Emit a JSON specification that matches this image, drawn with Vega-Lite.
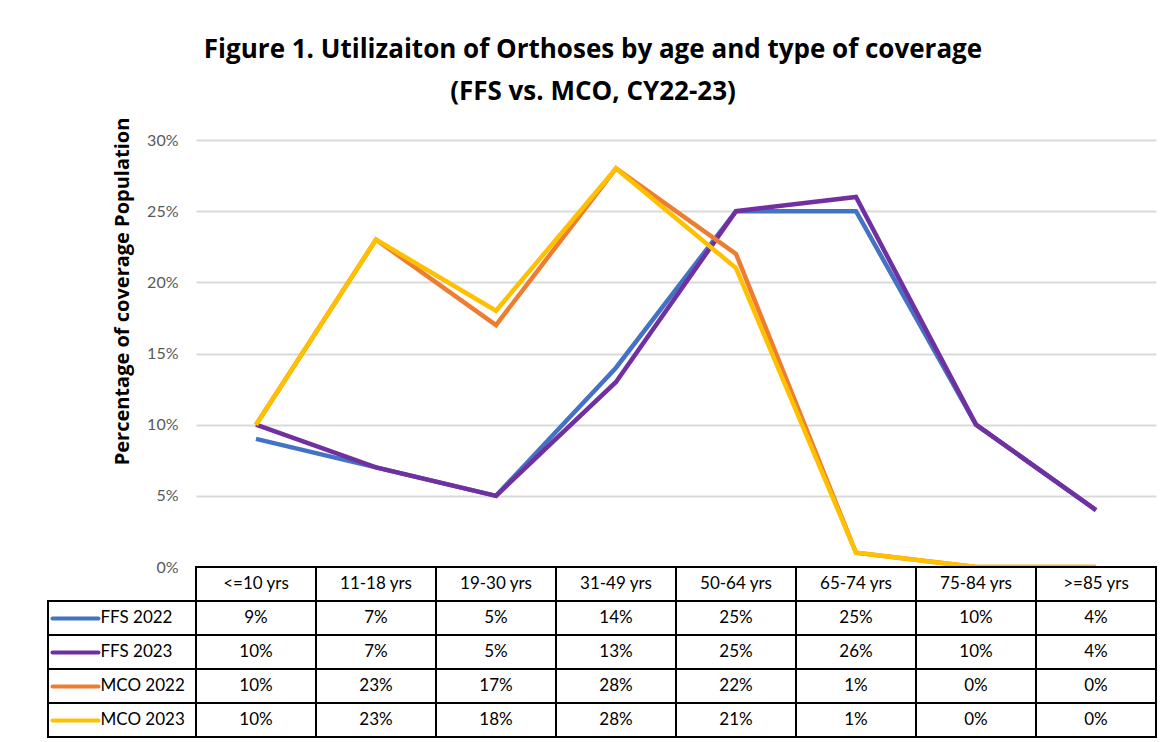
{
  "$schema": "https://vega.github.io/schema/vega-lite/v6.json",
  "background": "white",
  "padding": {"left": 47, "top": 37, "right": 8, "bottom": 0},
  "title": {
    "text": ["Figure 1. Utilizaiton of Orthoses by age and type of coverage", "(FFS vs. MCO, CY22-23)"],
    "font": "Open Sans",
    "fontSize": 26,
    "fontWeight": "bold",
    "color": "black",
    "anchor": "middle",
    "frame": "bounds",
    "lineHeight": 42,
    "offset": 12,
    "dx": -9
  },
  "datasets": {
    "main": [
      {"age": "<=10 yrs", "series": "FFS 2022", "value": 0.09},
      {"age": "11-18 yrs", "series": "FFS 2022", "value": 0.07},
      {"age": "19-30 yrs", "series": "FFS 2022", "value": 0.05},
      {"age": "31-49 yrs", "series": "FFS 2022", "value": 0.14},
      {"age": "50-64 yrs", "series": "FFS 2022", "value": 0.25},
      {"age": "65-74 yrs", "series": "FFS 2022", "value": 0.25},
      {"age": "75-84 yrs", "series": "FFS 2022", "value": 0.10},
      {"age": ">=85 yrs", "series": "FFS 2022", "value": 0.04},
      {"age": "<=10 yrs", "series": "FFS 2023", "value": 0.10},
      {"age": "11-18 yrs", "series": "FFS 2023", "value": 0.07},
      {"age": "19-30 yrs", "series": "FFS 2023", "value": 0.05},
      {"age": "31-49 yrs", "series": "FFS 2023", "value": 0.13},
      {"age": "50-64 yrs", "series": "FFS 2023", "value": 0.25},
      {"age": "65-74 yrs", "series": "FFS 2023", "value": 0.26},
      {"age": "75-84 yrs", "series": "FFS 2023", "value": 0.10},
      {"age": ">=85 yrs", "series": "FFS 2023", "value": 0.04},
      {"age": "<=10 yrs", "series": "MCO 2022", "value": 0.10},
      {"age": "11-18 yrs", "series": "MCO 2022", "value": 0.23},
      {"age": "19-30 yrs", "series": "MCO 2022", "value": 0.17},
      {"age": "31-49 yrs", "series": "MCO 2022", "value": 0.28},
      {"age": "50-64 yrs", "series": "MCO 2022", "value": 0.22},
      {"age": "65-74 yrs", "series": "MCO 2022", "value": 0.01},
      {"age": "75-84 yrs", "series": "MCO 2022", "value": 0.0},
      {"age": ">=85 yrs", "series": "MCO 2022", "value": 0.0},
      {"age": "<=10 yrs", "series": "MCO 2023", "value": 0.10},
      {"age": "11-18 yrs", "series": "MCO 2023", "value": 0.23},
      {"age": "19-30 yrs", "series": "MCO 2023", "value": 0.18},
      {"age": "31-49 yrs", "series": "MCO 2023", "value": 0.28},
      {"age": "50-64 yrs", "series": "MCO 2023", "value": 0.21},
      {"age": "65-74 yrs", "series": "MCO 2023", "value": 0.01},
      {"age": "75-84 yrs", "series": "MCO 2023", "value": 0.0},
      {"age": ">=85 yrs", "series": "MCO 2023", "value": 0.0}
    ]
  },
  "columns": 2,
  "spacing": 0,
  "bounds": "flush",
  "concat": [
    {
      "width": 148,
      "height": 427,
      "data": {"values": [{}]},
      "mark": {"type": "text", "text": ""}
    },
    {
      "width": 960,
      "height": 427,
      "data": {"name": "main"},
      "mark": {"type": "line", "strokeWidth": 4.5},
      "encoding": {
        "x": {
          "field": "age",
          "type": "nominal",
          "scale": {"type": "point", "padding": 0.5, "domain": ["<=10 yrs", "11-18 yrs", "19-30 yrs", "31-49 yrs", "50-64 yrs", "65-74 yrs", "75-84 yrs", ">=85 yrs"]},
          "axis": null
        },
        "y": {
          "field": "value",
          "type": "quantitative",
          "scale": {"domain": [0, 0.3], "nice": false},
          "axis": {
            "values": [0, 0.05, 0.1, 0.15, 0.2, 0.25, 0.3],
            "format": ".0%",
            "domain": false,
            "ticks": false,
            "labelPadding": 18,
            "labelFont": "Lato",
            "labelFontSize": 16,
            "labelColor": "#595959",
            "gridColor": "#d9d9d9",
            "gridWidth": 2,
            "title": "Percentage of coverage Population",
            "titleFont": "Open Sans",
            "titleFontSize": 20,
            "titleFontWeight": "bold",
            "titleColor": "black",
            "titlePadding": 14,
            "titleY": 151
          }
        },
        "color": {
          "field": "series",
          "type": "nominal",
          "scale": {"domain": ["FFS 2022", "FFS 2023", "MCO 2022", "MCO 2023"], "range": ["#4472C4", "#7030A0", "#ED7D31", "#FFC000"]},
          "legend": null
        }
      }
    },
    {
      "width": 148,
      "height": 170,
      "data": {"name": "main"},
      "transform": [{"aggregate": [{"op": "count", "as": "n"}], "groupby": ["series"]}],
      "mark": {"type": "rect", "fill": null, "fillOpacity": 0, "stroke": "black", "strokeWidth": 2},
      "encoding": {
        "y": {
          "field": "series",
          "type": "nominal",
          "scale": {"domain": [" ", "FFS 2022", "FFS 2023", "MCO 2022", "MCO 2023"], "paddingInner": 0, "paddingOuter": 0},
          "axis": {
            "orient": "left",
            "offset": -50,
            "domain": false,
            "tickSize": 46,
            "tickWidth": 4,
            "tickCap": "round",
            "tickColor": {
              "condition": [
                {"test": "datum.value === 'FFS 2022'", "value": "#4472C4"},
                {"test": "datum.value === 'FFS 2023'", "value": "#7030A0"},
                {"test": "datum.value === 'MCO 2022'", "value": "#ED7D31"},
                {"test": "datum.value === 'MCO 2023'", "value": "#FFC000"}
              ],
              "value": "transparent"
            },
            "labelAlign": "left",
            "labelBaseline": "middle",
            "labelPadding": -48,
            "labelFont": "Lato",
            "labelFontSize": 17,
            "labelColor": "black",
            "title": null,
            "zindex": 1
          }
        }
      }
    },
    {
      "width": 960,
      "height": 170,
      "encoding": {
        "x": {
          "field": "age",
          "type": "nominal",
          "scale": {"domain": ["<=10 yrs", "11-18 yrs", "19-30 yrs", "31-49 yrs", "50-64 yrs", "65-74 yrs", "75-84 yrs", ">=85 yrs"], "paddingInner": 0, "paddingOuter": 0},
          "axis": null
        }
      },
      "layer": [
        {
          "data": {"name": "main"},
          "mark": {"type": "rect", "fill": "white", "stroke": "black", "strokeWidth": 2},
          "encoding": {
            "y": {
              "field": "series",
              "type": "nominal",
              "scale": {"domain": [" ", "FFS 2022", "FFS 2023", "MCO 2022", "MCO 2023"], "paddingInner": 0, "paddingOuter": 0},
              "axis": null
            }
          }
        },
        {
          "data": {"name": "main"},
          "transform": [{"aggregate": [{"op": "count", "as": "n"}], "groupby": ["age"]}],
          "mark": {"type": "rect", "fill": "white", "stroke": "black", "strokeWidth": 2},
          "encoding": {
            "y": {"datum": " ", "type": "nominal"}
          }
        },
        {
          "data": {"name": "main"},
          "mark": {"type": "text", "font": "Lato", "fontSize": 17, "color": "black"},
          "encoding": {
            "y": {"field": "series", "type": "nominal"},
            "text": {"field": "value", "type": "quantitative", "format": ".0%"}
          }
        },
        {
          "data": {"name": "main"},
          "transform": [{"aggregate": [{"op": "count", "as": "n"}], "groupby": ["age"]}],
          "mark": {"type": "text", "font": "Lato", "fontSize": 17, "color": "black"},
          "encoding": {
            "y": {"datum": " ", "type": "nominal"},
            "text": {"field": "age", "type": "nominal"}
          }
        }
      ]
    }
  ],
  "config": {"view": {"stroke": null}, "font": "Lato"}
}
